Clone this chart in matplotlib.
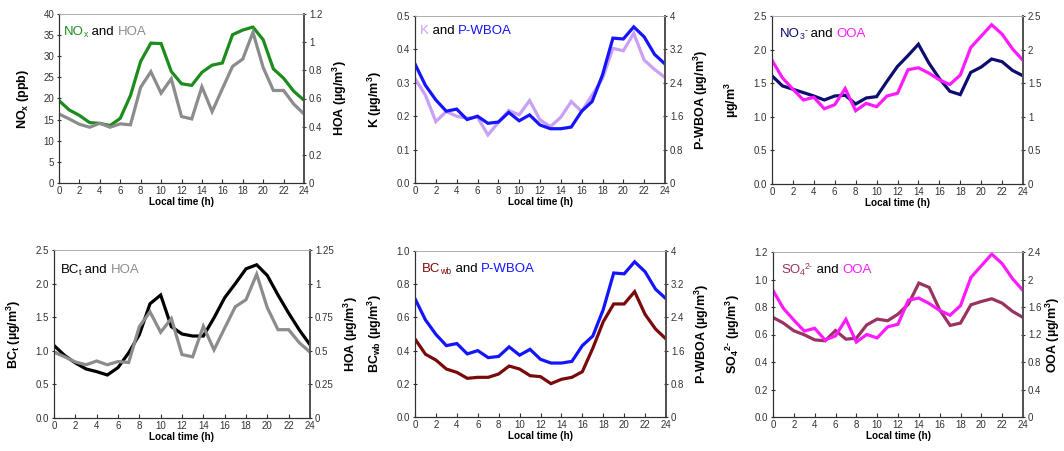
import matplotlib
matplotlib.use('Agg')
import matplotlib.pyplot as plt
from matplotlib import transforms

plt.rcParams['font.family'] = ['Liberation Sans', 'DejaVu Sans']
plt.rcParams['mathtext.fontset'] = 'custom'
plt.rcParams['mathtext.rm'] = 'Liberation Sans'
plt.rcParams['mathtext.bf'] = 'Liberation Sans:bold'

hours = list(range(25))

nox = [19.5, 17.3, 16.0, 14.3, 14.1, 13.6, 15.3, 20.7, 28.8, 33.1, 33.0, 26.4, 23.5,
       23.1, 26.2, 27.9, 28.4, 35.1, 36.2, 36.9, 33.9, 27.0, 24.8, 21.7, 19.6]
hoa = [0.49, 0.455, 0.417, 0.396, 0.424, 0.396, 0.42, 0.413, 0.68, 0.79, 0.638, 0.74, 0.472,
       0.455, 0.683, 0.507, 0.669, 0.828, 0.88, 1.07, 0.82, 0.657, 0.657, 0.56, 0.49]
k = [0.313, 0.263, 0.184, 0.214, 0.2, 0.194, 0.197, 0.144, 0.181, 0.217, 0.204, 0.247, 0.189,
     0.169, 0.197, 0.244, 0.214, 0.263, 0.313, 0.403, 0.396, 0.448, 0.368, 0.34, 0.316]
pwboa = [2.85, 2.34, 1.99, 1.72, 1.77, 1.52, 1.60, 1.43, 1.46, 1.69, 1.49, 1.63, 1.39,
         1.30, 1.30, 1.34, 1.72, 1.95, 2.59, 3.47, 3.45, 3.74, 3.50, 3.08, 2.85]
no3 = [1.61, 1.46, 1.41, 1.36, 1.31, 1.25, 1.31, 1.32, 1.19, 1.28, 1.30, 1.53, 1.75,
       1.91, 2.08, 1.80, 1.57, 1.38, 1.33, 1.66, 1.74, 1.86, 1.82, 1.69, 1.61]
ooa = [1.84, 1.58, 1.41, 1.25, 1.29, 1.12, 1.18, 1.42, 1.09, 1.20, 1.15, 1.31, 1.35,
       1.70, 1.73, 1.65, 1.55, 1.48, 1.62, 2.03, 2.20, 2.37, 2.23, 2.01, 1.84]
bct = [1.08, 0.93, 0.82, 0.73, 0.69, 0.64, 0.75, 0.97, 1.24, 1.70, 1.83, 1.36, 1.25,
       1.22, 1.22, 1.49, 1.79, 2.00, 2.22, 2.28, 2.12, 1.83, 1.56, 1.31, 1.09]
bcwb = [0.47, 0.378, 0.343, 0.289, 0.269, 0.233, 0.239, 0.239, 0.259, 0.307, 0.289, 0.249, 0.243,
        0.201, 0.227, 0.239, 0.273, 0.414, 0.574, 0.681, 0.681, 0.755, 0.618, 0.530, 0.47]
so4 = [0.724, 0.683, 0.627, 0.598, 0.561, 0.554, 0.629, 0.566, 0.573, 0.670, 0.712, 0.700, 0.748,
       0.821, 0.974, 0.942, 0.780, 0.666, 0.683, 0.816, 0.840, 0.860, 0.828, 0.768, 0.724]

GREEN = '#1c8c1c'
GREY = '#8c8c8c'
LILAC = '#c9a0f5'
BLUE = '#1414ff'
NAVY = '#0d0d70'
MAGENTA = '#ff1aff'
MAROON = '#7a0a0a'
PLUM = '#993360'

W, H = 1064, 451
fig = plt.figure(figsize=(W / 100, H / 100), dpi=100)


def make_axes(x0, x1, y0, y1):
    return fig.add_axes([x0 / W, 1 - y1 / H, (x1 - x0) / W, (y1 - y0) / H])


def colored_title(ax, x, y, parts, size=9.5):
    # parts: (text, colour, shift) where shift is 0 normal, -1 subscript, +1 superscript
    t = ax.transAxes
    r = fig.canvas.get_renderer()
    for s, c, sh in parts:
        fs = size if sh == 0 else size * 0.65
        dy = {0: 0, -1: -2, 1: 4}[sh]
        tt = transforms.offset_copy(t, fig=fig, x=0, y=dy, units='dots')
        txt = ax.text(x, y, s, color=c, transform=tt, va='baseline', fontsize=fs)
        txt.draw(r)
        ex = txt.get_window_extent(r)
        t = transforms.offset_copy(t, fig=fig, x=ex.width, units='dots')


def panel(rect, left, right, lcol, rcol, lylim, lticks, llabels, rylim, rticks, rlabels,
          lname, rname, parts, tpos, rpad=6):
    ax = make_axes(*rect)
    ax2 = ax.twinx()
    ax.plot(hours, left, color=lcol, lw=2.3, solid_joinstyle='miter')
    ax2.plot(hours, right, color=rcol, lw=2.3, solid_joinstyle='miter')
    ax.set_xlim(0, 24)
    ax.set_xticks(range(0, 25, 2))
    ax.set_ylim(*lylim)
    ax.set_yticks(lticks)
    ax.set_yticklabels(llabels)
    ax2.set_ylim(*rylim)
    ax2.set_yticks(rticks)
    ax2.set_yticklabels(rlabels)
    for a in (ax, ax2):
        a.tick_params(labelsize=7, colors='#333333', length=3, width=0.8, pad=2)
        a.spines['top'].set_color('#b0b0b0')
        a.spines['top'].set_linewidth(0.6)
        a.spines['left'].set_color('#303030')
        a.spines['bottom'].set_color('#303030')
        a.spines['right'].set_color('#505050')
        a.spines['right'].set_linewidth(1.2)
    ax.tick_params(axis='y', direction='inout')
    ax.tick_params(axis='x', direction='in')
    ax2.tick_params(axis='y', direction='inout')
    ax.set_xlabel('Local time (h)', fontsize=7.2, fontweight='bold', labelpad=1)
    if lname:
        ax.set_ylabel(lname, fontsize=9, fontweight='bold', labelpad=9)
    if rname:
        ax2.set_ylabel(rname, fontsize=9, fontweight='bold', labelpad=rpad)
    colored_title(ax, tpos[0], tpos[1], parts)
    return ax, ax2


UG = r'(µg/m$^\mathregular{3}$)'
HY = '\u2010'

panel((59, 304, 14, 183), nox, hoa, GREEN, GREY,
      (0, 40), range(0, 41, 5), [str(v) for v in range(0, 41, 5)],
      (0, 1.2), [0, 0.2, 0.4, 0.6, 0.8, 1.0, 1.2], ['0', '0.2', '0.4', '0.6', '0.8', '1', '1.2'],
      r'NO$_\mathregular{x}$ (ppb)', 'HOA ' + UG,
      [('NO', GREEN, 0), ('x', GREEN, -1), (' and ', 'black', 0), ('HOA', GREY, 0)], (0.02, 0.875))

panel((415, 665, 16, 183), k, pwboa, LILAC, BLUE,
      (0, 0.5), [0, 0.1, 0.2, 0.3, 0.4, 0.5], ['0.0', '0.1', '0.2', '0.3', '0.4', '0.5'],
      (0, 4), [0, 0.8, 1.6, 2.4, 3.2, 4], ['0', '0.8', '1.6', '2.4', '3.2', '4'],
      'K ' + UG, 'P-WBOA ' + UG,
      [('K', LILAC, 0), (' and ', 'black', 0), ('P-WBOA', BLUE, 0)], (0.02, 0.895))

panel((772, 1023, 16, 184), no3, ooa, NAVY, MAGENTA,
      (0, 2.5), [0, 0.5, 1.0, 1.5, 2.0, 2.5], ['0.0', '0.5', '1.0', '1.5', '2.0', '2.5'],
      (0, 2.5), [0, 0.5, 1.0, 1.5, 2.0, 2.5], ['0', '0.5', '1', '1.5', '2', '2.5'],
      r'µg/m$^\mathregular{3}$', None,
      [('NO', NAVY, 0), ('3', NAVY, -1), ('-', NAVY, 1), (' and ', 'black', 0), ('OOA', MAGENTA, 0)],
      (0.03, 0.875))

panel((54, 310, 250, 418), bct, hoa, 'black', GREY,
      (0, 2.5), [0, 0.5, 1.0, 1.5, 2.0, 2.5], ['0.0', '0.5', '1.0', '1.5', '2.0', '2.5'],
      (0, 1.25), [0, 0.25, 0.5, 0.75, 1.0, 1.25], ['0', '0.25', '0.5', '0.75', '1', '1.25'],
      r'BC$_\mathregular{t}$ ' + UG, 'HOA ' + UG,
      [('BC', 'black', 0), ('t', 'black', -1), (' and ', 'black', 0), ('HOA', GREY, 0)],
      (0.025, 0.862))

panel((415, 666, 251, 417), bcwb, pwboa, MAROON, BLUE,
      (0, 1.0), [0, 0.2, 0.4, 0.6, 0.8, 1.0], ['0.0', '0.2', '0.4', '0.6', '0.8', '1.0'],
      (0, 4), [0, 0.8, 1.6, 2.4, 3.2, 4], ['0', '0.8', '1.6', '2.4', '3.2', '4'],
      r'BC$_\mathregular{wb}$ ' + UG, 'P-WBOA ' + UG,
      [('BC', MAROON, 0), ('wb', MAROON, -1), (' and ', 'black', 0), ('P-WBOA', BLUE, 0)],
      (0.028, 0.872))

panel((773, 1023, 252, 417), so4, ooa, PLUM, MAGENTA,
      (0, 1.2), [0, 0.2, 0.4, 0.6, 0.8, 1.0, 1.2], ['0.0', '0.2', '0.4', '0.6', '0.8', '1.0', '1.2'],
      (0, 2.4), [0, 0.4, 0.8, 1.2, 1.6, 2.0, 2.4], ['0', '0.4', '0.8', '1.2', '1.6', '2', '2.4'],
      r'SO$_\mathregular{4}$$^\mathregular{2' + HY + '}$ ' + UG, 'OOA ' + UG,
      [('SO', PLUM, 0), ('4', PLUM, -1), ('2-', PLUM, 1), (' and ', 'black', 0), ('OOA', MAGENTA, 0)],
      (0.032, 0.872), rpad=2)

fig.savefig('out.png', dpi=100)
